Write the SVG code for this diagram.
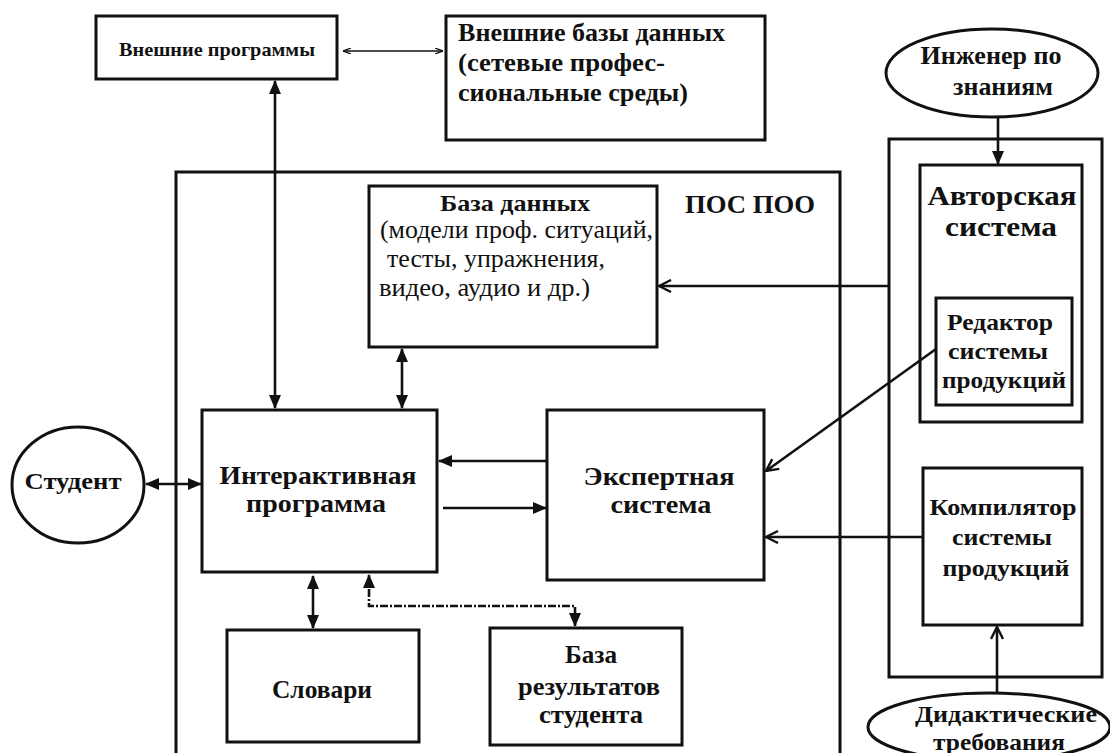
<svg xmlns="http://www.w3.org/2000/svg" width="1110" height="753" viewBox="0 0 1110 753" font-family="Liberation Serif, DejaVu Serif, serif">
<style>
.box{fill:none;stroke:#111;stroke-width:3}
.ell{fill:#fff;stroke:#111;stroke-width:3}
.c{fill:none;stroke:#111;stroke-width:2.6}
.t{font-weight:700;fill:#111;font-size:26px}
.r{font-weight:400;fill:#111;font-size:25px}
.m{text-anchor:middle}
</style>
<defs>
<marker id="fa" viewBox="0 0 14 12" refX="13" refY="6" markerWidth="14" markerHeight="12" markerUnits="userSpaceOnUse" orient="auto-start-reverse">
<path d="M0,0 L14,6 L0,12 Z" fill="#111"/>
</marker>
<marker id="sa" viewBox="0 0 8 6" refX="8" refY="3" markerWidth="8" markerHeight="6" markerUnits="userSpaceOnUse" orient="auto-start-reverse">
<path d="M0,0 L8,3 L0,6" fill="none" stroke="#111" stroke-width="1.2"/>
</marker>
<marker id="oa" viewBox="0 0 14 14" refX="13" refY="7" markerWidth="14" markerHeight="14" markerUnits="userSpaceOnUse" orient="auto">
<path d="M1,1 L13,7 L1,13" fill="none" stroke="#111" stroke-width="2.4"/>
</marker>
</defs>

<g id="pos_poo">
<rect class="box" x="176" y="172" width="664" height="600"/>
<text class="t m" x="750" y="213" font-family="Liberation Serif" textLength="130" lengthAdjust="spacingAndGlyphs">ПОС ПОО</text>
</g>

<g id="ext_prog">
<rect class="box" x="96" y="16" width="241" height="63"/>
<text class="t m" x="217" y="56" style="font-size:19px" textLength="196" lengthAdjust="spacingAndGlyphs">Внешние программы</text>
</g>

<g id="ext_db">
<rect class="box" x="446" y="16" width="319" height="124"/>
<text class="t" x="458" y="41" textLength="267" lengthAdjust="spacingAndGlyphs">Внешние базы данных</text>
<text class="t" x="458" y="71" textLength="207" lengthAdjust="spacingAndGlyphs">(сетевые профес-</text>
<text class="t" x="458" y="101" textLength="230" lengthAdjust="spacingAndGlyphs">сиональные среды)</text>
</g>

<g id="db">
<rect class="box" x="369" y="186" width="288" height="161"/>
<text class="t m" x="515" y="211" style="font-size:24px" textLength="150" lengthAdjust="spacingAndGlyphs">База данных</text>
<text class="r" x="380" y="238" textLength="273" lengthAdjust="spacingAndGlyphs">(модели проф. ситуаций,</text>
<text class="r" x="387" y="267" textLength="218" lengthAdjust="spacingAndGlyphs">тесты, упражнения,</text>
<text class="r" x="379" y="296" textLength="211" lengthAdjust="spacingAndGlyphs">видео, аудио и др.)</text>
</g>

<g id="student">
<ellipse class="ell" cx="78" cy="485" rx="66" ry="58"/>
<text class="t m" x="73" y="489" style="font-size:23px" textLength="97" lengthAdjust="spacingAndGlyphs">Студент</text>
</g>

<g id="interactive">
<rect class="box" x="202" y="410" width="235" height="162"/>
<text class="t m" x="318" y="484" textLength="197" lengthAdjust="spacingAndGlyphs">Интерактивная</text>
<text class="t m" x="316" y="512" textLength="140" lengthAdjust="spacingAndGlyphs">программа</text>
</g>

<g id="expert">
<rect class="box" x="547" y="410" width="217" height="170"/>
<text class="t m" x="659" y="485" textLength="151" lengthAdjust="spacingAndGlyphs">Экспертная</text>
<text class="t m" x="661" y="513" textLength="101" lengthAdjust="spacingAndGlyphs">система</text>
</g>

<g id="dictionaries">
<rect class="box" x="227" y="630" width="192" height="112"/>
<text class="t m" x="322" y="698" textLength="100" lengthAdjust="spacingAndGlyphs">Словари</text>
</g>

<g id="results_db">
<rect class="box" x="490" y="628" width="192" height="117"/>
<text class="t m" x="591" y="663" textLength="52" lengthAdjust="spacingAndGlyphs">База</text>
<text class="t m" x="589" y="695" textLength="142" lengthAdjust="spacingAndGlyphs">результатов</text>
<text class="t m" x="591" y="723" textLength="104" lengthAdjust="spacingAndGlyphs">студента</text>
</g>

<g id="engineer">
<ellipse class="ell" cx="992" cy="73" rx="106" ry="44"/>
<text class="t m" x="991" y="64" textLength="141" lengthAdjust="spacingAndGlyphs">Инженер по</text>
<text class="t m" x="1003" y="95" textLength="100" lengthAdjust="spacingAndGlyphs">знаниям</text>
</g>

<g id="author_outer">
<rect class="box" x="889" y="139" width="213" height="538"/>
</g>

<g id="author_system">
<rect class="box" x="920" y="165" width="162" height="257"/>
<text class="t m" x="1002" y="205" style="font-size:28px" textLength="149" lengthAdjust="spacingAndGlyphs">Авторская</text>
<text class="t m" x="1001" y="236" style="font-size:28px" textLength="112" lengthAdjust="spacingAndGlyphs">система</text>
</g>

<g id="editor">
<rect class="box" x="936" y="298" width="136" height="107"/>
<text class="t m" x="1000" y="330" style="font-size:24px" textLength="106" lengthAdjust="spacingAndGlyphs">Редактор</text>
<text class="t m" x="998" y="359" style="font-size:24px" textLength="100" lengthAdjust="spacingAndGlyphs">системы</text>
<text class="t m" x="1004" y="388" style="font-size:24px" textLength="124" lengthAdjust="spacingAndGlyphs">продукций</text>
</g>

<g id="compiler">
<rect class="box" x="923" y="468" width="159" height="157"/>
<text class="t m" x="1003" y="515" style="font-size:24px" textLength="147" lengthAdjust="spacingAndGlyphs">Компилятор</text>
<text class="t m" x="1002" y="545" style="font-size:24px" textLength="100" lengthAdjust="spacingAndGlyphs">системы</text>
<text class="t m" x="1006" y="576" style="font-size:24px" textLength="127" lengthAdjust="spacingAndGlyphs">продукций</text>
</g>

<g id="didactic">
<ellipse class="ell" cx="989" cy="727" rx="121" ry="34"/>
<text class="t m" x="1006" y="722" style="font-size:24px" textLength="182" lengthAdjust="spacingAndGlyphs">Дидактические</text>
<text class="t m" x="999" y="750" style="font-size:24px" textLength="132" lengthAdjust="spacingAndGlyphs">требования</text>
</g>

<g id="connectors">
<line x1="343" y1="51" x2="443" y2="51" stroke="#111" stroke-width="1.5" marker-start="url(#sa)" marker-end="url(#sa)"/>
<line class="c" x1="275" y1="81" x2="275" y2="408" marker-start="url(#fa)" marker-end="url(#fa)"/>
<line class="c" x1="402" y1="349" x2="402" y2="408" marker-start="url(#fa)" marker-end="url(#fa)"/>
<line class="c" x1="146" y1="484" x2="201" y2="484" marker-start="url(#fa)" marker-end="url(#fa)"/>
<line class="c" x1="547" y1="461" x2="439" y2="461" marker-end="url(#fa)"/>
<line class="c" x1="443" y1="508" x2="546" y2="508" marker-end="url(#fa)"/>
<line class="c" x1="313" y1="576" x2="313" y2="628" marker-start="url(#fa)" marker-end="url(#fa)"/>
<path class="c" d="M369,575 V606 H575 V626" stroke-dasharray="8,2,2,2" marker-start="url(#fa)" marker-end="url(#fa)"/>
<line class="c" x1="889" y1="286" x2="659" y2="286" marker-end="url(#oa)"/>
<line class="c" x1="936" y1="349" x2="766" y2="471" marker-end="url(#oa)"/>
<line class="c" x1="923" y1="537" x2="766" y2="537" marker-end="url(#oa)"/>
<line class="c" x1="998" y1="118" x2="998" y2="164" marker-end="url(#fa)"/>
<line class="c" x1="997" y1="693" x2="997" y2="627" marker-end="url(#oa)"/>
</g>
</svg>
